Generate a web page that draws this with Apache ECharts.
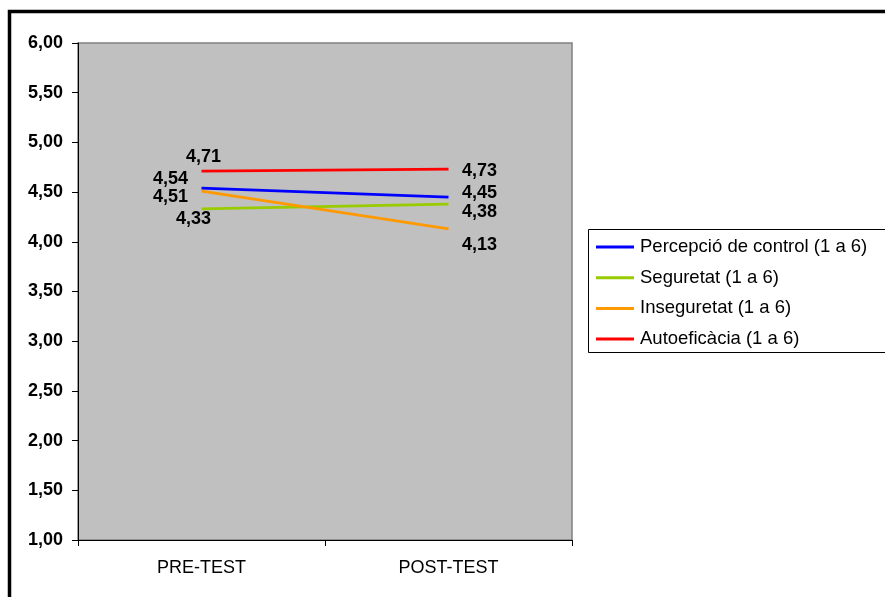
<!DOCTYPE html>
<html>
<head>
<meta charset="utf-8">
<script src="https://cdn.jsdelivr.net/npm/echarts@6/dist/echarts.min.js"></script>
<style>
  html, body { margin: 0; padding: 0; background: #fff; }
  #chart { width: 885px; height: 597px; }
</style>
</head>
<body>
<div id="chart"></div>
<script>
// Test phases on the x axis
const phases = ['PRE-TEST', 'POST-TEST'];

// Mean scores (scale 1 to 6)
const percepcio = [4.54, 4.45];
const seguretat = [4.33, 4.38];
const inseguretat = [4.51, 4.13];
const autoeficacia = [4.71, 4.73];

const seriesNames = [
  'Percepció de control (1 a 6)',
  'Seguretat (1 a 6)',
  'Inseguretat (1 a 6)',
  'Autoeficàcia (1 a 6)'
];
const seriesColors = ['#0000FF', '#99CC00', '#FF9900', '#FF0000'];
const seriesValues = [percepcio, seguretat, inseguretat, autoeficacia];

// Label offsets [dx, dy] from each point, per series and phase
const labelOffsets = [
  [[-31, -9], [31, -4]],
  [[-8, 10], [31, 8]],
  [[-31, 6], [31, 16]],
  [[2, -14], [31, 2]]
];

const FONT = 'Liberation Sans, Arial, sans-serif';
const fmt = v => v.toFixed(2).replace('.', ',');

const chart = echarts.init(document.getElementById('chart'), null, { renderer: 'canvas' });

const series = seriesValues.map((vals, i) => ({
  name: seriesNames[i],
  type: 'line',
  data: vals.map((v, j) => ({
    value: v,
    label: { offset: labelOffsets[i][j] }
  })),
  color: seriesColors[i],
  lineStyle: { width: 2.75, color: seriesColors[i] },
  symbol: 'circle',
  symbolSize: 0.1,
  showSymbol: true,
  itemStyle: { color: seriesColors[i] },
  emphasis: { disabled: true },
  animation: false,
  label: {
    show: true,
    position: 'inside',
    align: 'center',
    verticalAlign: 'middle',
    formatter: p => fmt(p.value),
    fontFamily: FONT,
    fontSize: 18,
    fontWeight: 'bold',
    color: '#000'
  }
}));

chart.setOption({
  animation: false,
  backgroundColor: '#fff',
  graphic: [
    {
      type: 'rect',
      shape: { x: 9.5, y: 11.5, width: 1000, height: 1000 },
      style: { fill: 'none', stroke: '#000', lineWidth: 3.5 },
      silent: true,
      z: 0
    },
    {
      type: 'rect',
      shape: { x: 588.5, y: 229.5, width: 400, height: 123 },
      style: { fill: '#fff', stroke: '#000', lineWidth: 1 },
      silent: true,
      z: 0
    }
  ],
  grid: {
    left: 78,
    top: 43,
    right: 313,
    bottom: 57,
    show: true,
    backgroundColor: '#C0C0C0',
    borderColor: '#808080',
    borderWidth: 1.5
  },
  legend: {
    orient: 'vertical',
    left: 596,
    top: 236.5,
    padding: 0,
    itemWidth: 38,
    itemHeight: 3,
    itemGap: 9.7,
    icon: 'rect',
    data: seriesNames,
    selectedMode: false,
    textStyle: {
      fontFamily: FONT,
      fontSize: 18.5,
      lineHeight: 21,
      color: '#000',
      padding: [0, 0, 0, 1]
    },
    z: 5
  },
  xAxis: {
    type: 'category',
    data: phases,
    boundaryGap: true,
    axisLine: { show: true, lineStyle: { color: '#000', width: 1 } },
    axisTick: { show: true, length: 6, lineStyle: { color: '#000' } },
    axisLabel: {
      fontFamily: FONT,
      fontSize: 18,
      color: '#000',
      margin: 19
    },
    splitLine: { show: false }
  },
  yAxis: {
    type: 'value',
    min: 1,
    max: 6,
    interval: 0.5,
    axisLine: { show: true, lineStyle: { color: '#000', width: 1 } },
    axisTick: { show: true, length: 6, lineStyle: { color: '#000' } },
    axisLabel: {
      fontFamily: FONT,
      fontSize: 18,
      fontWeight: 'bold',
      color: '#000',
      margin: 15,
      formatter: v => fmt(v)
    },
    splitLine: { show: false }
  },
  series: series
});
</script>
</body>
</html>
